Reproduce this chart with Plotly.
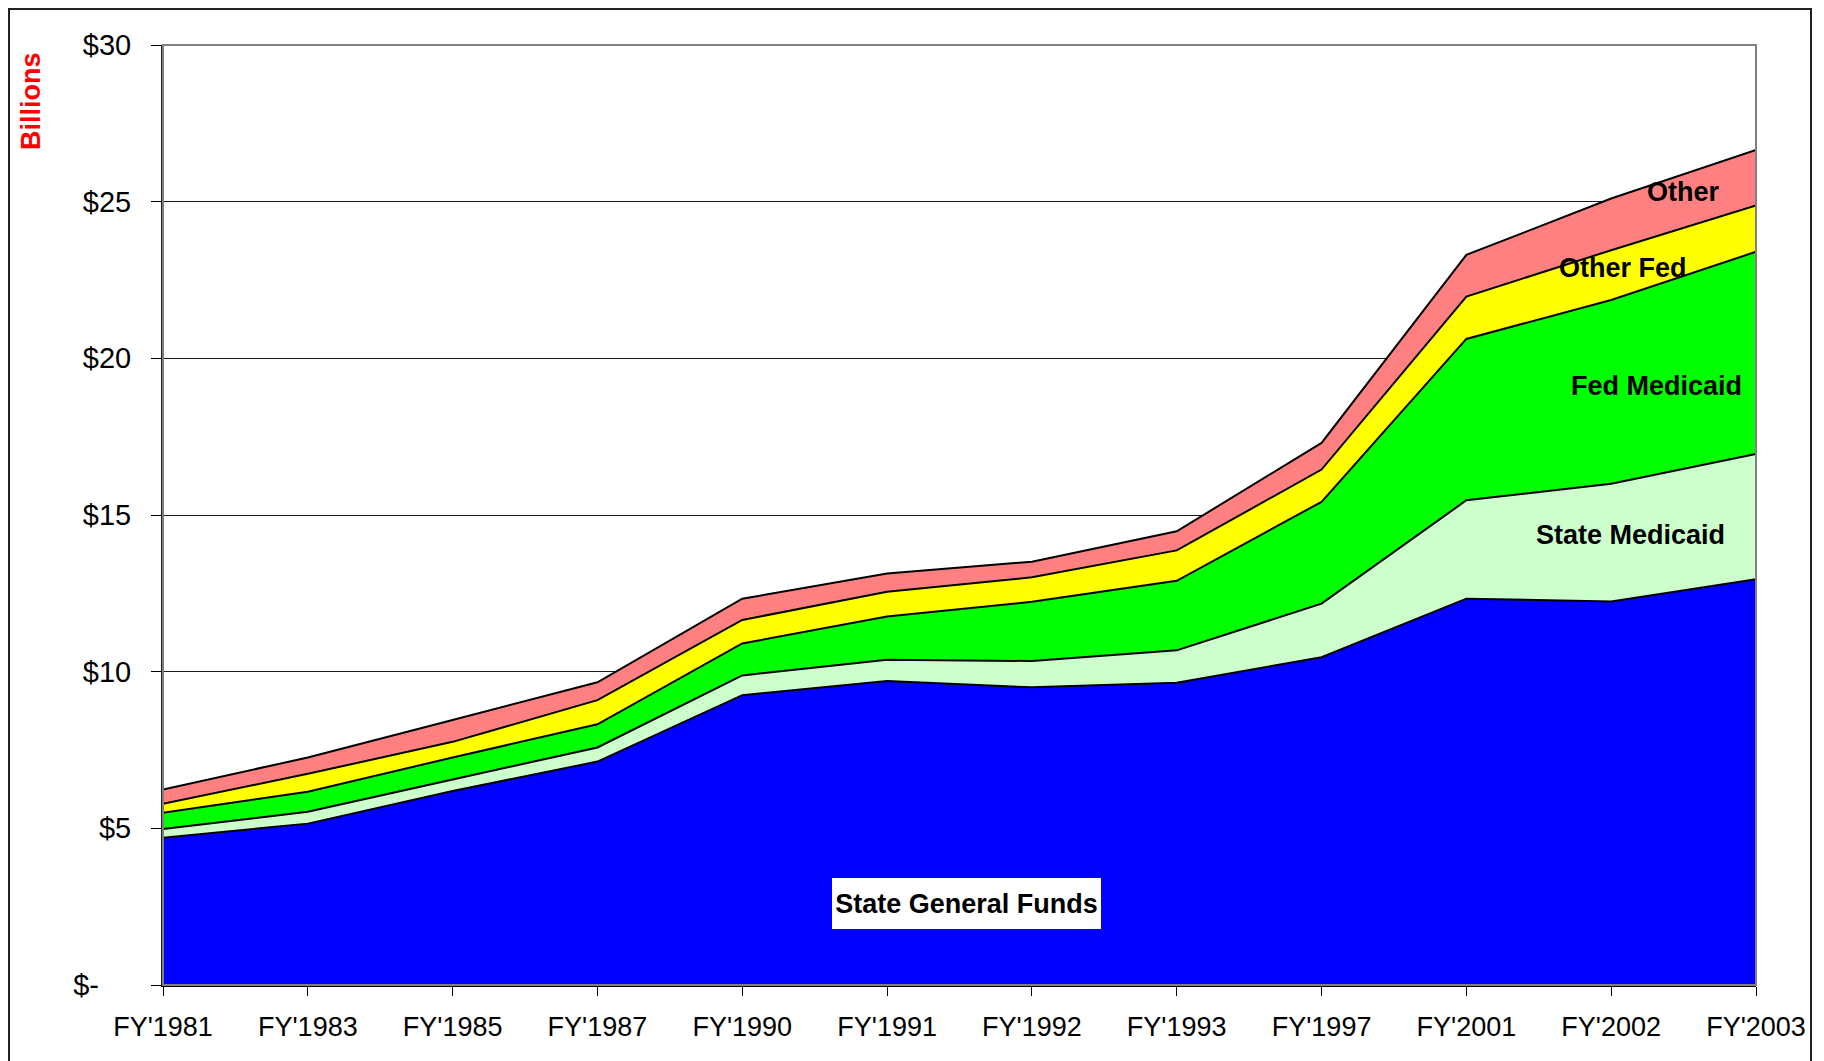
import plotly.graph_objects as go

years = ["FY'1981", "FY'1983", "FY'1985", "FY'1987", "FY'1990", "FY'1991",
         "FY'1992", "FY'1993", "FY'1997", "FY'2001", "FY'2002", "FY'2003"]

state_general_funds = [4.70, 5.15, 6.19, 7.13, 9.25, 9.70, 9.50, 9.65, 10.46, 12.33, 12.24, 12.95]
state_medicaid      = [0.28, 0.38, 0.37, 0.45, 0.63, 0.68, 0.84, 1.03, 1.71, 3.14, 3.76, 4.00]
fed_medicaid        = [0.52, 0.64, 0.70, 0.74, 1.02, 1.38, 1.89, 2.22, 3.25, 5.15, 5.86, 6.45]
other_fed           = [0.28, 0.57, 0.50, 0.77, 0.75, 0.79, 0.78, 0.97, 1.03, 1.35, 1.59, 1.48]
other               = [0.46, 0.52, 0.70, 0.57, 0.68, 0.58, 0.50, 0.61, 0.85, 1.33, 1.65, 1.77]

series_names = ["State General Funds", "State Medicaid", "Fed Medicaid", "Other Fed", "Other"]
series_colors = ["#0000FF", "#CCFFCC", "#00FF00", "#FFFF00", "#FF8080"]
series_values = [state_general_funds, state_medicaid, fed_medicaid, other_fed, other]

y_tickvals = [0, 5, 10, 15, 20, 25, 30]
y_ticktext = ["$-\u00a0\u00a0\u00a0\u00a0", "$5", "$10", "$15", "$20", "$25", "$30"]

# page has an 8px body margin; figure is sized so it fits in the 1824x1061 window
OFF = 8
W, H = 1824 - OFF, 1061 - OFF
L, R, T, B = 163 - OFF, 68, 45 - OFF, 76
PW, PH = W - L - R, H - T - B

FONT = "Liberation Sans, Arial, sans-serif"

fig = go.Figure()
for name, color, vals in zip(series_names, series_colors, series_values):
    fig.add_trace(go.Scatter(
        x=years, y=vals, name=name, mode="lines", stackgroup="one",
        fillcolor=color, line=dict(color="black", width=2),
        hoverinfo="skip",
    ))

# right edge outline of the stacked areas (from data)
total_last = sum(v[-1] for v in series_values)
fig.add_trace(go.Scatter(x=[years[-1], years[-1]], y=[0, total_last], mode="lines",
                         line=dict(color="black", width=2), hoverinfo="skip",
                         showlegend=False))

def px2paper_x(px):  # page pixel -> paper
    return (px - OFF - L) / PW

def px2paper_y(py):
    return (H - B - (py - OFF)) / PH

shapes = [
    dict(type="rect", xref="paper", yref="paper", x0=0, x1=1, y0=0, y1=1,
         line=dict(color="#808080", width=2), layer="above"),
    dict(type="rect", xref="paper", yref="paper",
         x0=px2paper_x(OFF + 1), x1=px2paper_x(1811), y0=px2paper_y(1075), y1=px2paper_y(OFF + 1),
         line=dict(color="#222222", width=2), layer="above"),
]

lab = dict(family=FONT, size=27, color="black", weight="bold")
annotations = [
    dict(text="Billions", xref="paper", yref="paper", x=px2paper_x(31), y=px2paper_y(101),
         textangle=-90, showarrow=False, xanchor="center", yanchor="middle",
         font=dict(family=FONT, size=27, color="red", weight="bold")),
    dict(text="Other", x=10.50, y=25.30, xref="x", yref="y", showarrow=False, font=lab),
    dict(text="Other Fed", x=10.08, y=22.89, xref="x", yref="y", showarrow=False, font=lab),
    dict(text="Fed Medicaid", x=10.31, y=19.12, xref="x", yref="y", showarrow=False, font=lab),
    dict(text="State Medicaid", x=10.13, y=14.36, xref="x", yref="y", showarrow=False, font=lab),
    dict(text="State General Funds", x=5.545, y=2.60, xref="x", yref="y", showarrow=False,
         font=lab, bgcolor="white", borderpad=0, borderwidth=0, width=269, height=51),
]

fig.update_layout(
    width=W, height=H, autosize=False,
    margin=dict(l=L, r=R, t=T, b=B, pad=0),
    paper_bgcolor="white", plot_bgcolor="white",
    showlegend=False,
    font=dict(family=FONT, size=27, color="black"),
    shapes=shapes, annotations=annotations,
    xaxis=dict(type="category", range=[0, 11], showgrid=False, zeroline=False,
               showline=True, linecolor="black", linewidth=2,
               ticks="outside", ticklen=9, tickcolor="black", tickwidth=1,
               tickfont=dict(family=FONT, size=27, color="black"),
               ticklabelstandoff=8),
    yaxis=dict(range=[0, 30], tickvals=y_tickvals, ticktext=y_ticktext,
               showgrid=True, gridcolor="#1a1a1a", gridwidth=1, zeroline=False,
               showline=True, linecolor="#222222", linewidth=2,
               ticks="outside", ticklen=10, tickcolor="black", tickwidth=1,
               tickfont=dict(family=FONT, size=29, color="black"),
               ticklabelstandoff=14),
)

fig.write_html("out.html")
